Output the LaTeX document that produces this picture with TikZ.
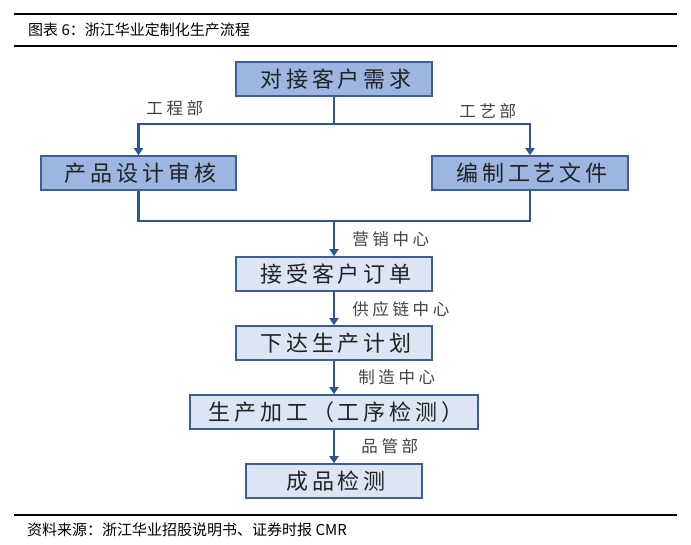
\documentclass[tikz,border=0pt]{standalone}
\usepackage{fontspec}
\setmainfont{Noto Sans CJK SC}
\newfontfamily\boxfont[LetterSpace=18]{Noto Sans CJK SC}
\newfontfamily\labfont[LetterSpace=22]{Noto Sans CJK SC}
\usetikzlibrary{arrows.meta}
\definecolor{boxdark}{HTML}{9DB5E1}
\definecolor{boxlight}{HTML}{DCE5F4}
\definecolor{boxedge}{HTML}{3C5F99}
\definecolor{conncol}{HTML}{2C5593}
\definecolor{txt}{HTML}{222222}
\newcommand{\bxt}[1]{\kern4pt #1}
\newcommand{\lbt}[1]{\kern3.6pt #1}
\tikzset{
  boxbase/.style={draw=boxedge, line width=1.6pt, minimum height=34pt, inner sep=0pt,
    font=\boxfont\fontsize{22}{25}\selectfont, text=txt},
  darkbox/.style={boxbase, fill=boxdark},
  lightbox/.style={boxbase, fill=boxlight},
  conn/.style={draw=conncol, line width=2.4pt},
  arr/.style={conn, -{Triangle[width=9pt,length=7pt]}},
  lab/.style={font=\labfont\fontsize{16.5}{19}\selectfont, text=txt!85, inner sep=0pt},
  rulel/.style={line width=1.1pt, black},
  note/.style={font=\fontsize{15}{18}\selectfont, inner sep=0pt, anchor=west}
}
\begin{document}
\begin{tikzpicture}[x=1pt,y=-1pt]
\useasboundingbox[fill=white] (0,0) rectangle (691,544);
% rules
\coordinate (r1a) at (14,14); \coordinate (r1b) at (677,14);
\coordinate (r2a) at (14,46); \coordinate (r2b) at (677,46);
\coordinate (r3a) at (14,515); \coordinate (r3b) at (677,515);
\draw[rulel] (r1a) -- (r1b);
\draw[rulel] (r2a) -- (r2b);
\draw[rulel] (r3a) -- (r3b);
\node[note] (title) at (28,30) {图表 6：浙江华业定制化生产流程};
\node[note] (src) at (27,530) {资料来源：浙江华业招股说明书、证券时报 CMR};
% boxes
\node[darkbox, minimum width=196pt] (b1) at (334,79) {\bxt{对接客户需求}};
\node[darkbox, minimum width=195pt] (b2) at (138.5,173) {\bxt{产品设计审核}};
\node[darkbox, minimum width=196pt] (b3) at (530,173) {\bxt{编制工艺文件}};
\node[lightbox, minimum width=196pt] (b4) at (334,274) {\bxt{接受客户订单}};
\node[lightbox, minimum width=196pt] (b5) at (334,343) {\bxt{下达生产计划}};
\node[lightbox, minimum width=288pt] (b6) at (334,412) {\bxt{生产加工（工序检测）}};
\node[lightbox, minimum width=176pt] (b7) at (334,481) {\bxt{成品检测}};
% connectors
\coordinate (s1) at (334,124);
\coordinate (s2) at (334,221);
\draw[arr] (b1.south) -- (s1) -| (b2.north);
\draw[arr] (s1) -| (b3.north);
\draw[conn] (b2.south) |- (s2);
\draw[conn] (b3.south) |- (s2);
\draw[arr] (s2) -- (b4.north);
\draw[arr] (b4.south) -- (b5.north);
\draw[arr] (b5.south) -- (b6.north);
\draw[arr] (b6.south) -- (b7.north);
% labels
\node[lab] (l1) at (173,108) {\lbt{工程部}};
\node[lab] (l2) at (486,111) {\lbt{工艺部}};
\node[lab] (l3) at (389,239) {\lbt{营销中心}};
\node[lab] (l4) at (399,309) {\lbt{供应链中心}};
\node[lab] (l5) at (395,377) {\lbt{制造中心}};
\node[lab] (l6) at (388,446) {\lbt{品管部}};
\end{tikzpicture}
\end{document}
